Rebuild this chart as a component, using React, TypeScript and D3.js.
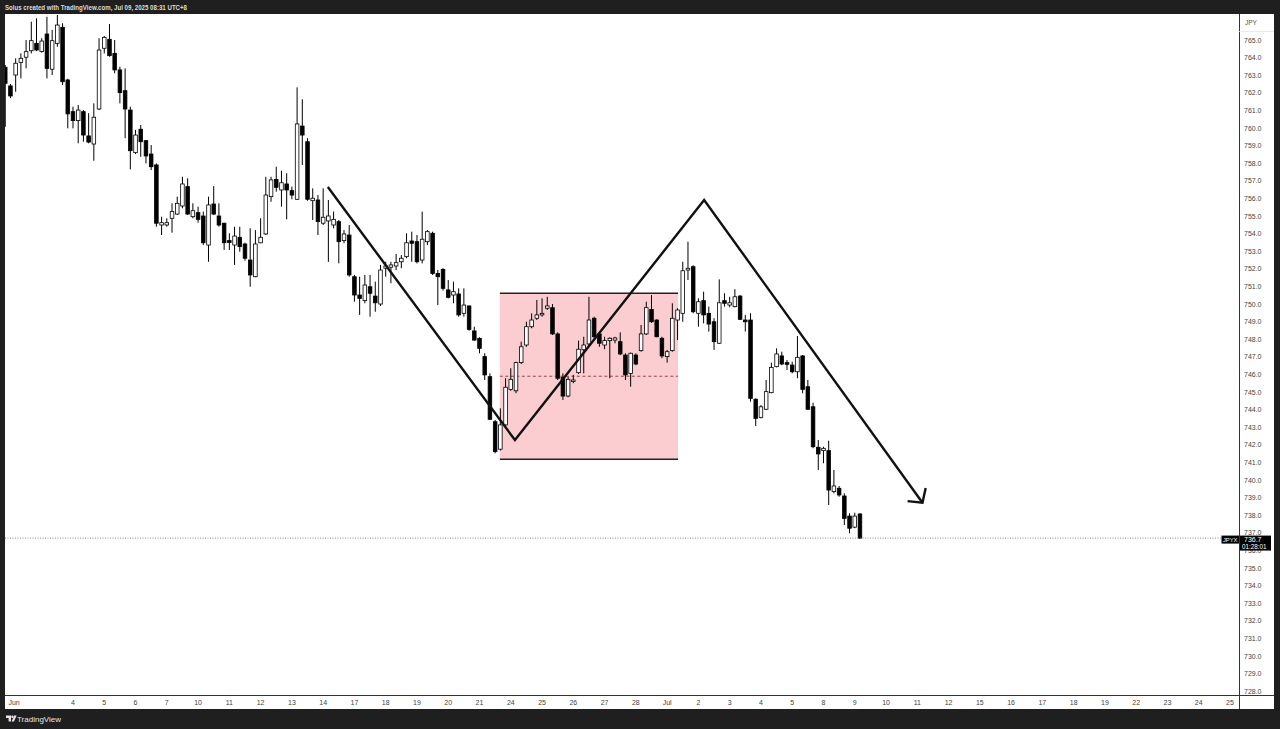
import React from "react";
import * as d3 from "d3";

// ---- OHLC data (4H candles), bar index starts at 1 ----
const opens = [
  763.45, 762.39, 763.01, 763.73, 764.02, 764.39, 764.81, 764.34, 765.34, 763.34,
  764.81, 765.72, 762.73, 760.93, 760.42, 760.93, 759.55, 759.09, 761.08, 764.53,
  765.04, 764.24, 763.30, 762.12, 761.02, 758.60, 759.93, 759.28, 758.52, 757.90,
  754.49, 754.49, 754.87, 755.11, 755.57, 756.67, 754.96, 755.19, 755.00, 753.35,
  755.68, 755.00, 754.59, 753.60, 753.35, 753.79, 753.41, 752.50, 751.55, 753.48,
  753.98, 756.10, 757.08, 756.48, 756.82, 756.44, 755.95, 760.11, 759.22, 755.87,
  755.91, 754.59, 754.72, 754.49, 754.68, 753.60, 753.92, 751.55, 750.51, 750.19,
  750.98, 750.45, 750.00, 752.03, 752.09, 752.16, 752.40, 752.69, 753.58, 753.54,
  752.50, 753.54, 754.02, 751.74, 751.97, 750.80, 750.51, 750.57, 749.47, 749.89,
  748.47, 748.05, 747.01, 745.87, 743.31, 741.75, 743.13, 745.15, 745.07, 746.67,
  747.67, 748.71, 749.19, 749.38, 749.76, 749.79, 748.30, 745.83, 744.77, 745.60,
  746.10, 747.40, 747.73, 749.19, 748.30, 747.67, 747.92, 747.95, 747.86, 747.10,
  746.06, 747.10, 747.35, 748.30, 749.69, 749.09, 748.05, 747.01, 747.35, 749.09,
  749.47, 751.93, 752.12, 749.47, 750.19, 749.47, 748.99, 747.77, 750.19, 749.94,
  749.85, 750.45, 749.09, 749.09, 744.59, 743.56, 744.02, 744.96, 746.44, 747.05,
  746.67, 746.53, 746.15, 747.05, 745.30, 744.16, 741.86, 741.67, 741.67, 739.34,
  739.53, 739.09, 737.95, 737.32, 738.07,
];
const highs = [
  763.58, 762.50, 763.96, 764.24, 765.00, 766.04, 766.23, 765.10, 766.32, 765.57,
  766.42, 765.95, 762.80, 761.21, 761.31, 761.02, 760.84, 761.40, 765.10, 765.23,
  765.91, 765.00, 763.48, 763.39, 761.21, 759.89, 760.17, 759.32, 759.03, 757.99,
  754.96, 754.87, 755.72, 756.10, 757.23, 757.14, 755.72, 755.53, 755.25, 756.10,
  756.70, 755.72, 754.62, 754.02, 754.39, 754.39, 753.48, 754.30, 754.20, 754.87,
  757.23, 757.23, 757.80, 757.57, 757.43, 756.67, 762.31, 761.63, 759.42, 756.57,
  756.19, 756.57, 755.91, 755.25, 754.77, 754.20, 754.49, 751.65, 751.55, 751.65,
  751.65, 751.27, 752.22, 752.40, 752.40, 752.84, 752.78, 754.02, 754.11, 753.92,
  755.25, 754.20, 754.11, 751.93, 752.03, 751.36, 751.27, 750.89, 750.89, 749.91,
  748.71, 748.11, 747.20, 746.06, 743.41, 744.07, 745.78, 746.35, 746.72, 747.86,
  748.99, 749.47, 750.23, 750.32, 750.41, 750.00, 748.39, 746.06, 745.87, 745.97,
  747.92, 748.14, 750.41, 749.28, 748.39, 748.14, 748.11, 748.14, 748.39, 747.20,
  747.24, 747.20, 748.81, 750.13, 750.51, 749.13, 748.14, 747.39, 750.04, 749.76,
  752.40, 753.54, 752.20, 750.32, 750.70, 749.85, 749.19, 751.40, 750.61, 750.41,
  750.84, 750.51, 749.38, 749.47, 744.64, 744.26, 745.68, 746.67, 747.48, 747.29,
  746.82, 746.72, 748.18, 747.10, 745.68, 744.39, 742.27, 741.89, 742.23, 740.57,
  739.66, 739.24, 738.11, 738.14, 738.11,
];
const lows = [
  760.07, 761.70, 762.06, 762.82, 763.39, 764.24, 764.37, 764.28, 762.82, 763.01,
  764.62, 762.44, 759.98, 759.98, 759.13, 759.22, 759.13, 758.14, 761.02, 764.24,
  764.05, 763.11, 761.40, 759.42, 757.65, 758.52, 758.37, 757.99, 757.61, 754.39,
  753.92, 754.39, 754.05, 755.06, 755.44, 755.06, 754.87, 754.62, 753.35, 752.40,
  755.06, 754.39, 753.07, 753.07, 752.22, 752.97, 752.46, 750.98, 751.52, 753.45,
  753.92, 755.81, 756.38, 755.53, 754.81, 755.95, 755.91, 757.90, 755.87, 754.77,
  753.92, 754.49, 752.39, 754.30, 752.31, 753.45, 751.55, 750.13, 749.38, 750.04,
  749.28, 749.56, 749.89, 751.55, 751.18, 751.93, 752.03, 752.60, 752.40, 752.31,
  752.31, 753.35, 751.65, 749.94, 750.76, 750.32, 750.04, 749.28, 749.28, 748.48,
  747.92, 747.20, 745.68, 743.41, 741.52, 741.67, 743.03, 745.07, 744.93, 746.59,
  747.57, 748.62, 749.09, 749.28, 749.66, 748.24, 745.68, 744.55, 744.70, 745.50,
  746.02, 746.06, 747.67, 748.05, 747.57, 747.43, 745.78, 747.77, 747.10, 745.68,
  745.30, 746.52, 747.29, 748.24, 748.93, 748.11, 746.92, 746.67, 747.29, 747.95,
  748.99, 751.36, 749.47, 748.71, 748.90, 748.43, 747.39, 747.73, 749.85, 749.81,
  749.81, 749.09, 748.43, 744.45, 743.07, 743.50, 743.98, 744.93, 746.40, 746.52,
  746.25, 746.06, 745.78, 744.93, 743.98, 741.80, 740.57, 740.95, 738.58, 739.24,
  739.05, 737.44, 736.97, 737.26, 736.65,
];
const closes = [
  762.54, 761.82, 763.68, 763.96, 764.34, 764.96, 764.43, 764.94, 763.39, 764.96,
  765.85, 762.63, 760.80, 760.42, 761.02, 759.60, 759.20, 760.61, 764.43, 765.15,
  764.11, 763.30, 762.01, 761.08, 758.71, 759.60, 759.22, 758.41, 757.80, 754.59,
  754.62, 754.62, 755.25, 755.72, 756.82, 755.11, 755.30, 754.81, 753.48, 755.63,
  755.11, 754.49, 753.48, 753.50, 753.86, 753.26, 752.60, 751.65, 753.41, 753.79,
  756.19, 757.05, 756.63, 756.89, 756.48, 756.19, 760.23, 759.60, 755.95, 756.01,
  754.68, 754.93, 755.00, 754.81, 753.54, 753.98, 751.65, 750.51, 750.32, 751.08,
  750.61, 750.07, 751.93, 752.16, 752.22, 752.35, 752.60, 753.48, 753.45, 752.40,
  753.68, 754.11, 751.74, 751.55, 750.89, 750.38, 750.70, 749.38, 749.94, 748.56,
  747.95, 747.48, 745.97, 743.45, 741.61, 743.13, 745.27, 745.72, 746.67, 747.57,
  748.71, 749.09, 749.38, 749.47, 749.89, 748.30, 745.78, 744.77, 745.72, 745.68,
  747.43, 747.67, 749.09, 748.14, 747.77, 747.92, 748.05, 748.07, 747.16, 745.97,
  747.20, 746.59, 748.30, 749.79, 748.99, 748.14, 747.05, 747.29, 749.19, 749.66,
  751.89, 752.03, 749.56, 750.13, 749.38, 748.86, 747.86, 750.07, 750.04, 750.07,
  750.41, 749.13, 748.99, 744.64, 743.50, 744.16, 745.02, 746.40, 747.16, 746.59,
  746.57, 746.15, 746.97, 745.15, 744.02, 741.89, 741.48, 741.80, 739.43, 739.66,
  739.15, 737.82, 737.26, 737.95, 736.70,
];

// ---- axis ticks ----
const xTickLabels = [
  "Jun", "4", "5", "6", "7", "10", "11", "12", "13", "14", "17", "18", "19", "20", "21",
  "24", "25", "26", "27", "28", "Jul", "2", "3", "4", "5", "8", "9", "10", "11", "12",
  "15", "16", "17", "18", "19", "22", "23", "24", "25",
];
const xTickBars = [
  2.7, 14, 20, 26, 32, 38, 44, 50, 56, 62, 68, 74, 80, 86, 92,
  98, 104, 110, 116, 122, 128, 134, 140, 146, 152, 158, 164, 170, 176, 182,
  188, 194, 200, 206, 212, 218, 224, 230, 236,
];
const yTickValues = d3.range(728, 766, 1);

// ---- drawings (bar index, price) ----
const zigzagBars = [62.9, 98.8, 135.1, 177.0];
const zigzagPrices = [756.65, 742.27, 755.91, 738.71];
const rangeBars = [95.9, 130.1];
const rangePrices = [750.61, 741.18];
const lastPrice = 736.7;
const countdown = "01:28:01";
const symbol = "JPYX";

const W = 1280;
const H = 729;
const PL = 5, PR = 1239, PT = 14, PB = 695;
const FRAME = "#1f1f1f";
const FONT = "'Liberation Sans', Arial, sans-serif";

export default function App() {
  const x = d3.scaleLinear().domain([1, 236]).range([5.24, 1230]);
  const y = d3.scaleLinear().domain([728, 765]).range([691.2, 40]);
  const bodyW = 3.6;

  const candles = opens.map((o, i) => ({
    i: i + 1, o, h: highs[i], l: lows[i], c: closes[i],
  }));

  const zz = zigzagBars.map((b, i) => [x(b), y(zigzagPrices[i])] as [number, number]);
  const line = d3.line();
  const tip = zz[zz.length - 1];
  const prev = zz[zz.length - 2];
  const ang = Math.atan2(prev[1] - tip[1], prev[0] - tip[0]);
  const barb = 15;
  const spread = (48 * Math.PI) / 180;
  const b1: [number, number] = [tip[0] + barb * Math.cos(ang + spread), tip[1] + barb * Math.sin(ang + spread)];
  const b2: [number, number] = [tip[0] + barb * Math.cos(ang - spread), tip[1] + barb * Math.sin(ang - spread)];

  const rx0 = x(rangeBars[0]), rx1 = x(rangeBars[1]);
  const ry0 = y(rangePrices[0]), ry1 = y(rangePrices[1]);
  const rmid = y((rangePrices[0] + rangePrices[1]) / 2);
  const ly = y(lastPrice);

  return (
    <svg width={W} height={H} style={{ position: "absolute", left: 0, top: 0, display: "block" }}
      xmlns="http://www.w3.org/2000/svg">
      <defs>
        <clipPath id="plot">
          <rect x={PL} y={PT} width={PR - PL} height={PB - PT} />
        </clipPath>
      </defs>
      <rect x={0} y={0} width={W} height={H} fill={FRAME} />
      <rect x={PL} y={PT} width={1274 - PL} height={709 - PT} fill="#ffffff" />

      {/* header */}
      <text x={5} y={10} fill="#dcdcdc" fontSize={6.3} fontWeight="bold" fontFamily={FONT}
        textLength={182} lengthAdjust="spacingAndGlyphs">
        Solus created with TradingView.com, Jul 09, 2025 08:31 UTC+8
      </text>

      <g clipPath="url(#plot)">
        {/* range box */}
        <rect x={rx0} y={ry0} width={rx1 - rx0} height={ry1 - ry0} fill="rgba(242,54,69,0.25)" />
        <line x1={rx0} x2={rx1} y1={rmid} y2={rmid} stroke="#8a3a3a" strokeWidth={0.9} strokeDasharray="3,2.5" />

        {/* candles */}
        {candles.map((d) => {
          const cx = x(d.i);
          const top = y(Math.max(d.o, d.c));
          const bot = y(Math.min(d.o, d.c));
          const bull = d.c >= d.o;
          return (
            <g key={d.i}>
              <line x1={cx} x2={cx} y1={y(d.h)} y2={y(d.l)} stroke="#000" strokeWidth={1} />
              <rect x={cx - bodyW / 2} y={top} width={bodyW} height={Math.max(1, bot - top)}
                fill={bull ? "#ffffff" : "#000000"} stroke="#000" strokeWidth={0.8} />
            </g>
          );
        })}

        <line x1={rx0} x2={rx1} y1={ry0} y2={ry0} stroke="#2b2020" strokeWidth={1.4} />
        <line x1={rx0} x2={rx1} y1={ry1} y2={ry1} stroke="#2b2020" strokeWidth={1.4} />

        {/* last price line */}
        <line x1={PL} x2={PR} y1={ly} y2={ly} stroke="#707070" strokeWidth={0.8} strokeDasharray="1,1.5" />

        {/* zigzag with arrow */}
        <path d={line(zz) || ""} fill="none" stroke="#111" strokeWidth={2.4} strokeLinejoin="miter" />
        <path d={line([b1, tip, b2]) || ""} fill="none" stroke="#111" strokeWidth={2.4} />
      </g>

      {/* price axis */}
      <line x1={PR + 0.5} x2={PR + 0.5} y1={PT} y2={709} stroke="#333" strokeWidth={1} />
      <line x1={PR} x2={1274} y1={31.5} y2={31.5} stroke="#e4e4e4" strokeWidth={0.8} />
      <text x={1251} y={25} textAnchor="middle" fontSize={6.5} fill="#555" fontFamily={FONT}>JPY</text>
      {yTickValues.map((v) => (
        <text key={v} x={1244} y={y(v) + 2.5} fontSize={7} fill="#444" fontFamily={FONT}>
          {v.toFixed(1)}
        </text>
      ))}

      {/* time axis */}
      <line x1={PL} x2={1274} y1={PB + 0.5} y2={PB + 0.5} stroke="#333" strokeWidth={1} />
      {xTickLabels.map((t, i) => (
        <text key={i} x={x(xTickBars[i])} y={705} textAnchor="middle" fontSize={7} fill="#444" fontFamily={FONT}>
          {t}
        </text>
      ))}

      {/* last price labels */}
      <rect x={1221.5} y={ly - 2.5} width={17.5} height={8} fill="#000" />
      <text x={1230.2} y={ly + 3.6} textAnchor="middle" fontSize={5.8} fill="#fff" fontFamily={FONT}>{symbol}</text>
      <rect x={1240} y={ly - 2.5} width={31} height={15} fill="#000" />
      <text x={1244} y={ly + 4} fontSize={7} fill="#fff" fontFamily={FONT}>{lastPrice.toFixed(1)}</text>
      <text x={1242} y={ly + 11} fontSize={6.3} fill="#fff" fontFamily={FONT}>{countdown}</text>

      {/* bottom logo */}
      <g transform="translate(6,715.5)" fill="#e6e6e6">
        <path d="M0 0 H5 V6 H2.6 V2.4 H0 Z" />
        <circle cx={6.4} cy={1.2} r={1.2} />
        <path d="M8.2 0 H10.6 L8 6 H5.6 Z" />
      </g>
      <text x={17} y={721.5} fontSize={8} fill="#e6e6e6" fontFamily={FONT}>TradingView</text>
    </svg>
  );
}
